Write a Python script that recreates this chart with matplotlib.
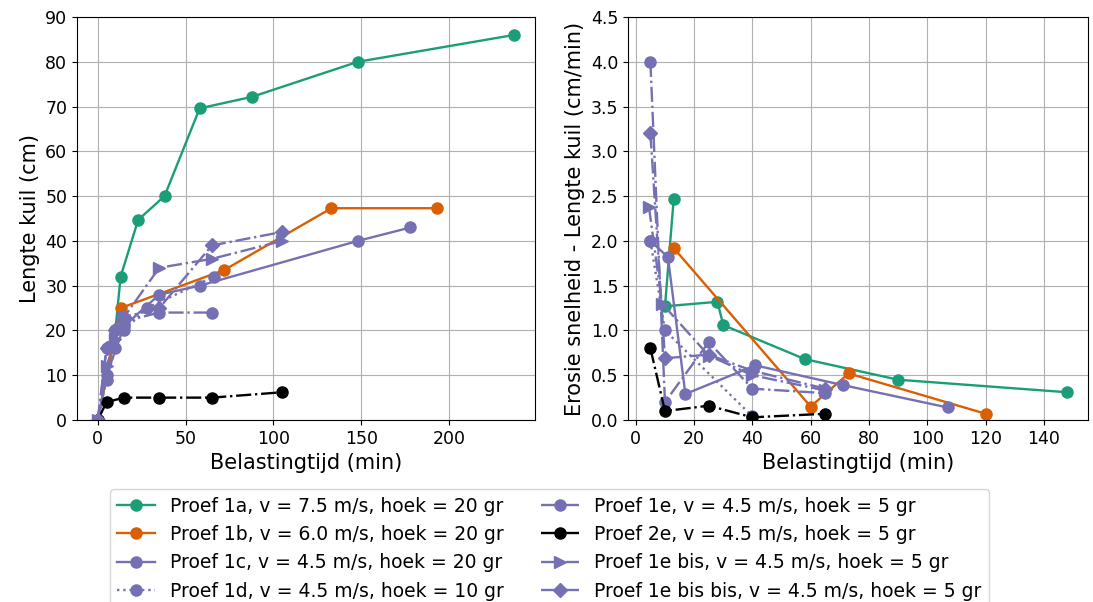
# Lengte kuil en erosiesnelheid tegen belastingtijd, per proef

import matplotlib.pyplot as plt

# kleuren (Dark2)
groen = '#1b9e77'
oranje = '#d95f02'
paars = '#7570b3'

labels = [
    'Proef 1a, v = 7.5 m/s, hoek = 20 gr',
    'Proef 1b, v = 6.0 m/s, hoek = 20 gr',
    'Proef 1c, v = 4.5 m/s, hoek = 20 gr',
    'Proef 1d, v = 4.5 m/s, hoek = 10 gr',
    'Proef 1e, v = 4.5 m/s, hoek = 5 gr',
    'Proef 2e, v = 4.5 m/s, hoek = 5 gr',
    'Proef 1e bis, v = 4.5 m/s, hoek = 5 gr',
    'Proef 1e bis bis, v = 4.5 m/s, hoek = 5 gr',
]

# lengte kuil (cm) tegen tijd (min)
t_1a = [0, 10, 13, 23, 38, 58, 88, 148, 237]
l_1a = [0, 20, 32, 44.7, 50, 69.6, 72.2, 80, 86]
t_1b = [0, 13, 72, 133, 193]
l_1b = [0, 25, 33.5, 47.3, 47.3]
t_1c = [0, 5, 15, 35, 58, 148, 178]
l_1c = [0, 10, 21, 28, 30, 40, 43]
t_1d = [0, 5, 10, 15, 28, 66]
l_1d = [0, 9, 16, 20, 25, 32]
t_1e = [0, 5, 10, 15, 35, 65]
l_1e = [0, 16, 20, 22, 24, 24]
t_2e = [0, 5, 15, 35, 65, 105]
l_2e = [0, 4, 5, 5, 5, 6.2]
t_1ebis = [0, 5, 10, 15, 35, 65, 105]
l_1ebis = [0, 12, 18, 23, 34, 36, 40]
t_1ebisbis = [0, 5, 10, 15, 35, 65, 105]
l_1ebisbis = [0, 16, 20, 23, 25, 39, 42]

# erosiesnelheid (cm/min) tegen tijd (min)
s_t_1a = [13, 10, 28, 30, 58, 90, 148]
s_1a = [2.47, 1.27, 1.32, 1.06, 0.68, 0.45, 0.31]
s_t_1b = [13, 60, 73, 120]
s_1b = [1.92, 0.15, 0.52, 0.07]
s_t_1c = [5, 11, 17, 41, 71, 107]
s_1c = [2.0, 1.82, 0.29, 0.61, 0.39, 0.14]
s_t_1d = [5, 10, 40]
s_1d = [2.0, 1.0, 0.04]
s_t_1e = [5, 10, 25, 40, 65]
s_1e = [4.0, 0.2, 0.87, 0.35, 0.3]
s_t_2e = [5, 10, 25, 40, 65]
s_2e = [0.8, 0.1, 0.16, 0.03, 0.07]
s_t_1ebis = [4.5, 9, 25, 40, 65]
s_1ebis = [2.38, 1.3, 0.72, 0.5, 0.33]
s_t_1ebisbis = [5, 10, 25, 40, 65]
s_1ebisbis = [3.2, 0.69, 0.73, 0.55, 0.35]

stijlen = [
    dict(color=groen, ls='-', marker='o'),
    dict(color=oranje, ls='-', marker='o'),
    dict(color=paars, ls='-', marker='o'),
    dict(color=paars, ls=':', marker='o'),
    dict(color=paars, ls='-.', marker='o'),
    dict(color='black', ls='-.', marker='o'),
    dict(color=paars, ls='-.', marker='>'),
    dict(color=paars, ls='-.', marker='D', ms=7),
]

lengte = [(t_1a, l_1a), (t_1b, l_1b), (t_1c, l_1c), (t_1d, l_1d),
          (t_1e, l_1e), (t_2e, l_2e), (t_1ebis, l_1ebis), (t_1ebisbis, l_1ebisbis)]
snelheid = [(s_t_1a, s_1a), (s_t_1b, s_1b), (s_t_1c, s_1c), (s_t_1d, s_1d),
            (s_t_1e, s_1e), (s_t_2e, s_2e), (s_t_1ebis, s_1ebis), (s_t_1ebisbis, s_1ebisbis)]

plt.rcParams['font.size'] = 12.5

fig = plt.figure(figsize=(10.93, 6.02), dpi=100)
ax1 = fig.add_axes([0.0704, 0.3023, 0.419, 0.6694])
ax2 = fig.add_axes([0.5746, 0.3023, 0.4209, 0.6694])

for (x, y), (xs, ys), st, lab in zip(lengte, snelheid, stijlen, labels):
    kw = dict(lw=1.7, ms=8)
    kw.update(st)
    ax1.plot(x, y, label=lab, **kw)
    ax2.plot(xs, ys, **kw)

ax1.set_ylim(0, 90)
ax1.set_xticks([0, 50, 100, 150, 200])
ax1.set_xlabel('Belastingtijd (min)', fontsize=15)
ax1.set_ylabel('Lengte kuil (cm)', fontsize=15)
ax1.grid(True)

ax2.set_ylim(0, 4.5)
ax2.set_xticks(range(0, 141, 20))
ax2.set_xlabel('Belastingtijd (min)', fontsize=15)
ax2.set_ylabel('Erosie snelheid - Lengte kuil (cm/min)', fontsize=15)
ax2.grid(True)

handles, labs = ax1.get_legend_handles_labels()
fig.legend(handles, labs, ncol=2, loc='upper left', borderaxespad=0,
           bbox_to_anchor=(110 / 1093, 1 - 489 / 602), fontsize=13.5)

plt.savefig('out.png', dpi=100)
plt.close(fig)
